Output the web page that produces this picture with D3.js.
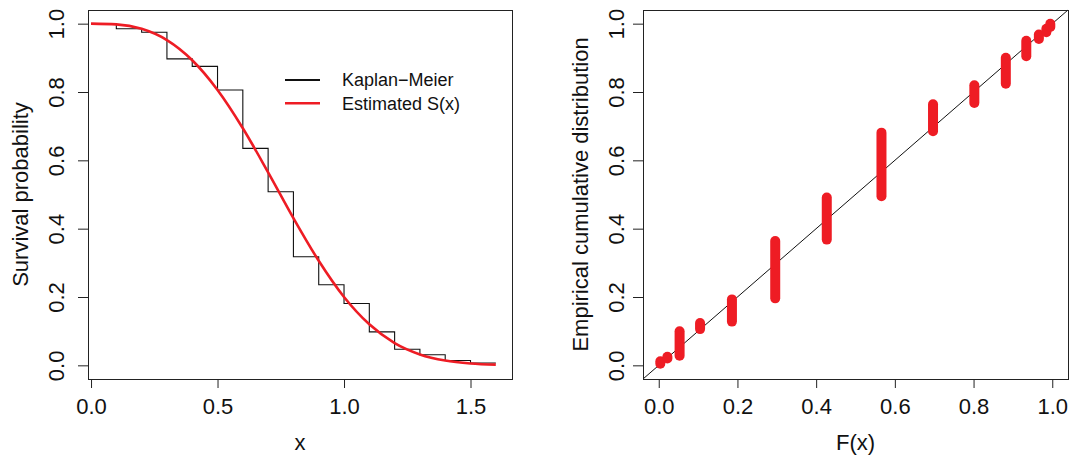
<!DOCTYPE html>
<html>
<head>
<meta charset="utf-8">
<script src="https://cdn.jsdelivr.net/npm/d3@7"></script>
<style>
  body { margin: 0; background: #fff; }
  svg { display: block; font-family: "Liberation Sans", Arial, sans-serif; }
</style>
</head>
<body>
<svg id="chart" width="1075" height="455"></svg>
<script>
// Kaplan-Meier step function (time, survival)
const kmTimes = [0, 0.1, 0.2, 0.3, 0.4, 0.5, 0.6, 0.7, 0.8, 0.9, 1.0, 1.1, 1.2, 1.3, 1.4, 1.5, 1.6];
const kmSurv = [1.0, 0.985, 0.975, 0.897, 0.875, 0.806, 0.635, 0.508, 0.318, 0.236, 0.181, 0.098, 0.047, 0.031, 0.014, 0.007, 0.007];

// estimated S(x)
const fitX = [0, 0.1, 0.2, 0.3, 0.4, 0.5, 0.6, 0.7, 0.8, 0.9, 1.0, 1.1, 1.2, 1.3, 1.4, 1.5, 1.6];
const fitS = [1.0, 0.998, 0.985, 0.952, 0.893, 0.806, 0.694, 0.565, 0.431, 0.306, 0.200, 0.120, 0.065, 0.032, 0.014, 0.0055, 0.002];

// P-P plot: each tied group at F(x), with ECDF from low to high
const ppF = [0.004, 0.022, 0.053, 0.105, 0.186, 0.296, 0.427, 0.566, 0.697, 0.802, 0.882, 0.934, 0.966, 0.985, 0.995];
const ppLow = [0.005, 0.020, 0.028, 0.106, 0.128, 0.196, 0.368, 0.495, 0.685, 0.768, 0.824, 0.905, 0.955, 0.975, 0.990];
const ppHigh = [0.012, 0.025, 0.100, 0.124, 0.193, 0.364, 0.491, 0.681, 0.764, 0.820, 0.900, 0.950, 0.968, 0.985, 1.000];

const leftXTicks = [0, 0.5, 1.0, 1.5];
const probTicks = [0, 0.2, 0.4, 0.6, 0.8, 1.0];
const legendLabels = ["Kaplan\u2212Meier", "Estimated S(x)"];

const svg = d3.select("#chart");
const red = "#ee1c24";
const ink = "#222";
const fs = 22;

const plotTop = 10, plotBottom = 379;

// ---------- left panel ----------
const L = { left: 88, right: 512 };
const x1 = d3.scaleLinear().domain([-0.012, 1.664]).range([L.left, L.right]);
const y1 = d3.scaleLinear().domain([-0.04, 1.04]).range([plotBottom, plotTop]);

// ---------- right panel ----------
const R = { left: 643, right: 1068 };
const x2 = d3.scaleLinear().domain([-0.04, 1.04]).range([R.left, R.right]);
const y2 = y1.copy();

const fmt = d3.format(".1f");

function bottomAxis(scale, ticks) {
  return (g) =>
    g
      .attr("transform", `translate(0, ${plotBottom})`)
      .call(d3.axisBottom(scale).tickValues(ticks).tickFormat(fmt).tickSize(9).tickPadding(10))
      .call((g) => g.select(".domain").remove())
      .call((g) => g.selectAll("line").attr("stroke", ink))
      .call((g) => g.selectAll("text").attr("font-size", fs).attr("font-family", null).attr("fill", "#111"));
}

function leftAxis(scale, xPos, labelOffset) {
  return (g) =>
    g
      .attr("transform", `translate(${xPos}, 0)`)
      .call(d3.axisLeft(scale).tickValues(probTicks).tickFormat(fmt).tickSize(10))
      .call((g) => g.select(".domain").remove())
      .call((g) => g.selectAll("line").attr("stroke", ink))
      .call((g) =>
        g
          .selectAll("text")
          .attr("font-size", fs)
          .attr("font-family", null)
          .attr("fill", "#111")
          .attr("x", null)
          .attr("dy", null)
          .attr("text-anchor", "middle")
          .attr("transform", `translate(${-labelOffset}, 0) rotate(-90)`)
      );
}

function frame(p) {
  svg
    .append("rect")
    .attr("x", p.left + 0.5)
    .attr("y", plotTop + 0.5)
    .attr("width", p.right - p.left)
    .attr("height", plotBottom - plotTop)
    .attr("fill", "none")
    .attr("stroke", ink)
    .attr("stroke-width", 1);
}

// left panel content
const kmData = kmTimes.map((t, i) => ({ t, s: kmSurv[i] }));
svg
  .append("path")
  .datum(kmData)
  .attr("fill", "none")
  .attr("stroke", "#111")
  .attr("stroke-width", 1.1)
  .attr("d", d3.line().x((d) => x1(d.t)).y((d) => y1(d.s)).curve(d3.curveStepAfter));

const fitData = fitX.map((t, i) => ({ t, s: fitS[i] }));
svg
  .append("path")
  .datum(fitData)
  .attr("fill", "none")
  .attr("stroke", red)
  .attr("stroke-width", 2.6)
  .attr("d", d3.line().x((d) => x1(d.t)).y((d) => y1(d.s)).curve(d3.curveMonotoneX));

frame(L);
svg.append("g").call(bottomAxis(x1, leftXTicks));
svg.append("g").call(leftAxis(y1, L.left, 24));

// legend
const legend = svg.append("g");
legendLabels.forEach((lab, i) => {
  const yy = 80 + i * 23.3;
  legend
    .append("line")
    .attr("x1", 285)
    .attr("x2", 320)
    .attr("y1", yy)
    .attr("y2", yy)
    .attr("stroke", i === 0 ? "#111" : red)
    .attr("stroke-width", i === 0 ? 1.8 : 2.4);
  legend
    .append("text")
    .attr("x", 342)
    .attr("y", yy + 6.3)
    .attr("font-size", 18)
    .attr("fill", "#111")
    .text(lab);
});

// axis titles, left
svg
  .append("text")
  .attr("transform", `translate(${(L.left + L.right) / 2}, 450)`)
  .attr("text-anchor", "middle")
  .attr("font-size", fs)
  .attr("fill", "#111")
  .text("x");
svg
  .append("text")
  .attr("transform", `translate(28, ${(plotTop + plotBottom) / 2}) rotate(-90)`)
  .attr("text-anchor", "middle")
  .attr("font-size", fs)
  .attr("fill", "#111")
  .text("Survival probability");

// right panel content
svg
  .append("line")
  .attr("x1", x2(-0.04))
  .attr("y1", y2(-0.04))
  .attr("x2", x2(1.04))
  .attr("y2", y2(1.04))
  .attr("stroke", "#111")
  .attr("stroke-width", 1);

svg
  .append("g")
  .selectAll("line")
  .data(ppF)
  .enter()
  .append("line")
  .attr("x1", (d) => x2(d))
  .attr("x2", (d) => x2(d))
  .attr("y1", (d, i) => y2(ppLow[i]))
  .attr("y2", (d, i) => y2(ppHigh[i]))
  .attr("stroke", red)
  .attr("stroke-width", 10)
  .attr("stroke-linecap", "round");

frame(R);
svg.append("g").call(bottomAxis(x2, probTicks));
svg.append("g").call(leftAxis(y2, R.left, 19.5));

svg
  .append("text")
  .attr("transform", `translate(${(R.left + R.right) / 2}, 450)`)
  .attr("text-anchor", "middle")
  .attr("font-size", fs)
  .attr("fill", "#111")
  .text("F(x)");
svg
  .append("text")
  .attr("transform", `translate(588, ${(plotTop + plotBottom) / 2}) rotate(-90)`)
  .attr("text-anchor", "middle")
  .attr("font-size", fs)
  .attr("fill", "#111")
  .text("Empirical cumulative distribution");
</script>
</body>
</html>
